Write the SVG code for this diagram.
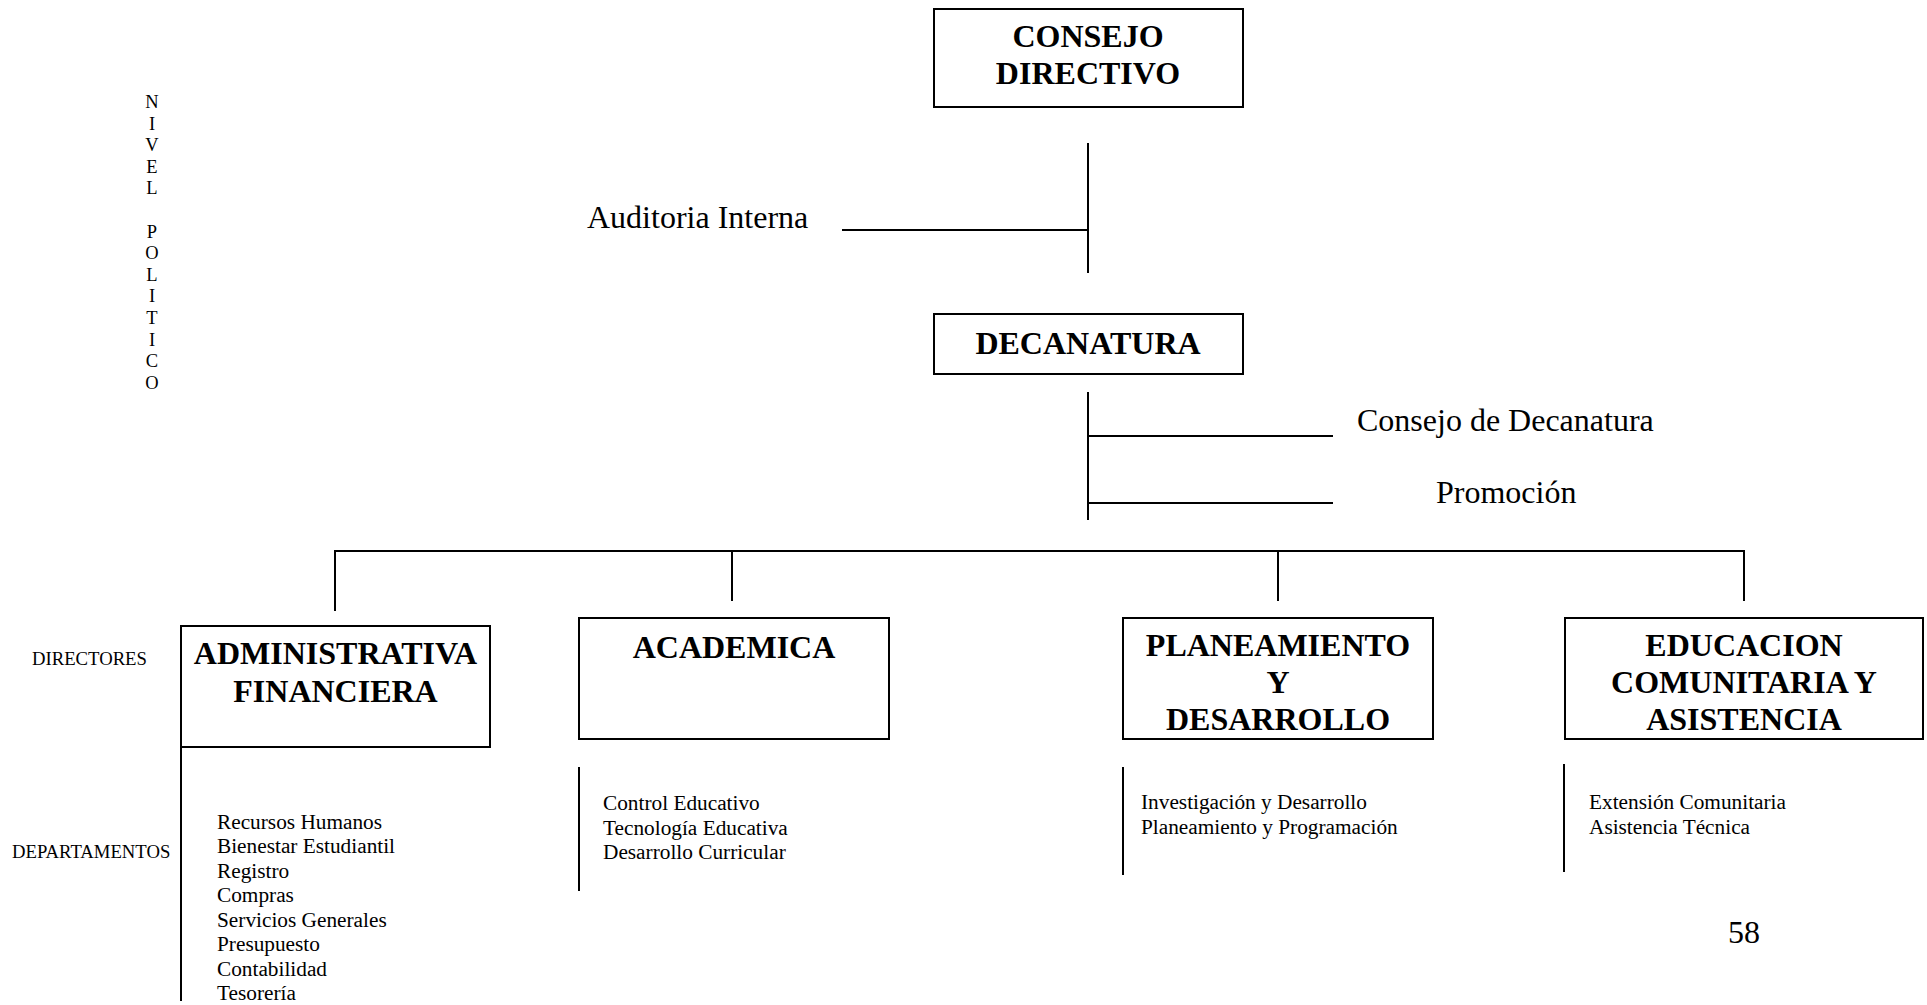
<svg xmlns="http://www.w3.org/2000/svg" width="1927" height="1005" viewBox="0 0 1927 1005">
<style>
  text { font-family: "Liberation Serif", "Times New Roman", serif; fill: #000; }
  .box { fill: #fff; stroke: #000; stroke-width: 2; }
  .ln { stroke: #000; stroke-width: 2; fill: none; }
  .b { font-weight: bold; font-size: 32px; text-anchor: middle; }
  .lab { font-size: 32px; }
  .item { font-size: 21.3px; }
  .side { font-size: 18.7px; }
  .v { font-size: 18.5px; text-anchor: middle; }
</style>
<rect width="1927" height="1005" fill="#fff"/>

<g id="connectors">
  <line class="ln" x1="1088" y1="143" x2="1088" y2="273"/>
  <line class="ln" x1="842" y1="230" x2="1088" y2="230"/>
  <line class="ln" x1="1088" y1="392" x2="1088" y2="520"/>
  <line class="ln" x1="1088" y1="436" x2="1333" y2="436"/>
  <line class="ln" x1="1088" y1="503" x2="1333" y2="503"/>
  <polyline class="ln" points="335,611 335,551 1744,551 1744,601"/>
  <line class="ln" x1="732" y1="551" x2="732" y2="601"/>
  <line class="ln" x1="1278" y1="551" x2="1278" y2="601"/>
  <line class="ln" x1="181" y1="747" x2="181" y2="1001"/>
  <line class="ln" x1="579" y1="767" x2="579" y2="891"/>
  <line class="ln" x1="1123" y1="767" x2="1123" y2="875"/>
  <line class="ln" x1="1564" y1="764" x2="1564" y2="872"/>
</g>

<g id="nivel-politico">
  <text class="v" x="152" y="108">N</text>
  <text class="v" x="152" y="129.6">I</text>
  <text class="v" x="152" y="151.2">V</text>
  <text class="v" x="152" y="172.8">E</text>
  <text class="v" x="152" y="194.4">L</text>
  <text class="v" x="152" y="237.6">P</text>
  <text class="v" x="152" y="259.2">O</text>
  <text class="v" x="152" y="280.8">L</text>
  <text class="v" x="152" y="302.4">I</text>
  <text class="v" x="152" y="324">T</text>
  <text class="v" x="152" y="345.6">I</text>
  <text class="v" x="152" y="367.2">C</text>
  <text class="v" x="152" y="388.8">O</text>
</g>

<g id="consejo-directivo">
  <rect class="box" x="934" y="9" width="309" height="98"/>
  <text class="b" x="1088" y="47">CONSEJO</text>
  <text class="b" x="1088" y="84">DIRECTIVO</text>
</g>

<g id="auditoria-interna">
  <text class="lab" x="587" y="228">Auditoria Interna</text>
</g>

<g id="decanatura">
  <rect class="box" x="934" y="314" width="309" height="60"/>
  <text class="b" x="1088" y="354">DECANATURA</text>
</g>

<g id="consejo-decanatura">
  <text class="lab" x="1357" y="431">Consejo de Decanatura</text>
</g>

<g id="promocion">
  <text class="lab" x="1436" y="503">Promoción</text>
</g>

<g id="labels">
  <text class="side" x="32" y="665">DIRECTORES</text>
  <text class="side" x="12" y="858">DEPARTAMENTOS</text>
</g>

<g id="administrativa-financiera">
  <rect class="box" x="181" y="626" width="309" height="121"/>
  <text class="b" x="335.5" y="664">ADMINISTRATIVA</text>
  <text class="b" x="335.5" y="702">FINANCIERA</text>
</g>

<g id="academica">
  <rect class="box" x="579" y="618" width="310" height="121"/>
  <text class="b" x="734" y="658">ACADEMICA</text>
</g>

<g id="planeamiento-desarrollo">
  <rect class="box" x="1123" y="618" width="310" height="121"/>
  <text class="b" x="1278" y="656">PLANEAMIENTO</text>
  <text class="b" x="1278" y="693">Y</text>
  <text class="b" x="1278" y="730">DESARROLLO</text>
</g>

<g id="educacion-comunitaria">
  <rect class="box" x="1565" y="618" width="358" height="121"/>
  <text class="b" x="1744" y="656">EDUCACION</text>
  <text class="b" x="1744" y="693">COMUNITARIA Y</text>
  <text class="b" x="1744" y="730">ASISTENCIA</text>
</g>

<g id="deptos-administrativa">
  <text class="item" x="217" y="829">Recursos Humanos</text>
  <text class="item" x="217" y="853.4">Bienestar Estudiantil</text>
  <text class="item" x="217" y="877.9">Registro</text>
  <text class="item" x="217" y="902.3">Compras</text>
  <text class="item" x="217" y="926.7">Servicios Generales</text>
  <text class="item" x="217" y="951.2">Presupuesto</text>
  <text class="item" x="217" y="975.6">Contabilidad</text>
  <text class="item" x="217" y="1000">Tesorería</text>
</g>

<g id="deptos-academica">
  <text class="item" x="603" y="810">Control Educativo</text>
  <text class="item" x="603" y="834.5">Tecnología Educativa</text>
  <text class="item" x="603" y="859">Desarrollo Curricular</text>
</g>

<g id="deptos-planeamiento">
  <text class="item" x="1141" y="809">Investigación y Desarrollo</text>
  <text class="item" x="1141" y="834">Planeamiento y Programación</text>
</g>

<g id="deptos-educacion">
  <text class="item" x="1589" y="809">Extensión Comunitaria</text>
  <text class="item" x="1589" y="834">Asistencia Técnica</text>
</g>

<g id="page-number">
  <text class="lab" x="1744" y="943" text-anchor="middle">58</text>
</g>
</svg>
